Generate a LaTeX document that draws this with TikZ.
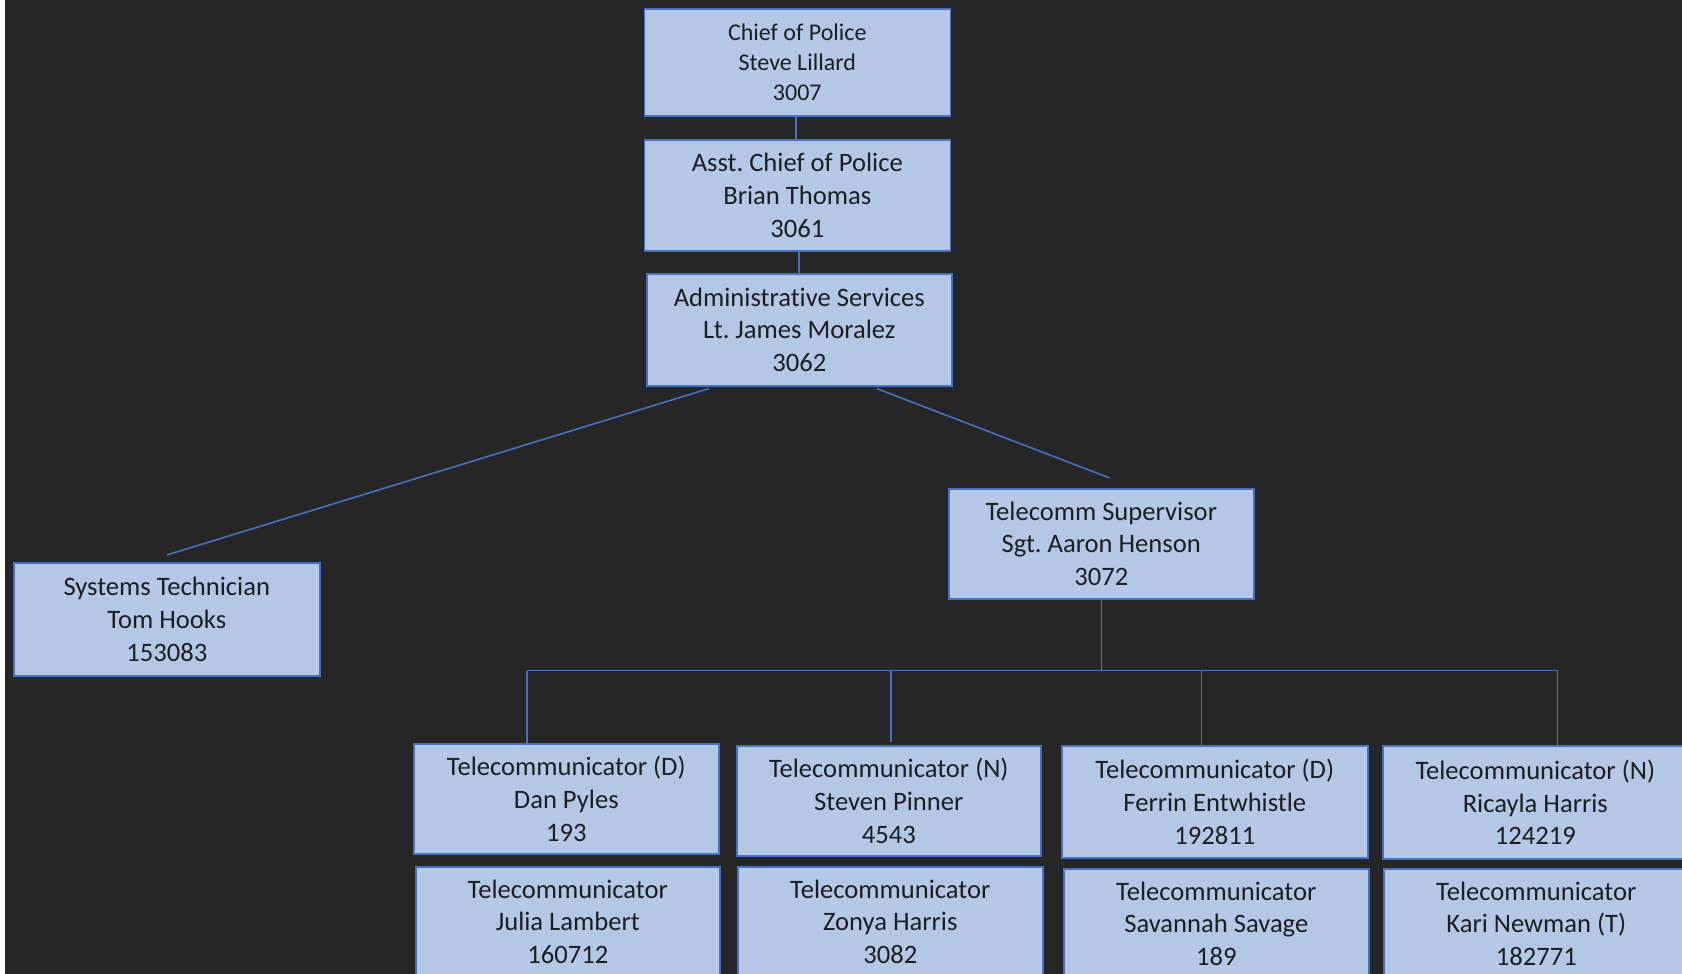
\documentclass[tikz,border=0pt]{standalone}
\usepackage{fontspec}
\setmainfont[Ligatures=NoCommon]{Carlito}
\frenchspacing
\definecolor{bg}{HTML}{262626}
\definecolor{boxfill}{HTML}{B4C7E7}
\definecolor{boxline}{HTML}{4472C4}
\definecolor{txt}{HTML}{1E1E1E}
\tikzset{
  orgbox/.style={draw=boxline, fill=boxfill, line width=1.6pt, anchor=north west,
    align=center, inner sep=0pt, text=txt,
    font=\fontsize{26.6}{32.7}\selectfont},
  link/.style={draw=boxline, line width=1.6pt}
}
\begin{document}
\begin{tikzpicture}[x=1pt,y=-1pt]
\useasboundingbox (0,0) rectangle (1682,974);
\fill[white] (0,0) rectangle (5,974);
\fill[bg] (5,0) rectangle (1682,974);
\begin{scope}
\clip (5,0) rectangle (1682,974);
% boxes
\node[orgbox, minimum width=306pt, minimum height=106.5pt, font=\fontsize{24}{30}\selectfont] (chief) at (643.5,8.5) {Chief of Police\\Steve Lillard\\3007};
\node[orgbox, minimum width=306pt, minimum height=111pt] (asst) at (643.5,139) {Asst. Chief of Police\\Brian Thomas\\3061};
\node[orgbox, minimum width=305pt, minimum height=112pt] (admin) at (646,273) {Administrative Services\\Lt. James Moralez\\3062};
\node[orgbox, minimum width=306pt, minimum height=113pt] (sys) at (13,562) {Systems Technician\\Tom Hooks\\153083};
\node[orgbox, minimum width=305pt, minimum height=110pt] (sup) at (948,488) {Telecomm Supervisor\\Sgt. Aaron Henson\\3072};
\node[orgbox, minimum width=305pt, minimum height=110pt] (dan) at (413,743) {Telecommunicator (D)\\Dan Pyles\\193};
\node[orgbox, minimum width=304pt, minimum height=110pt] (steven) at (736,745) {Telecommunicator (N)\\Steven Pinner\\4543};
\node[orgbox, minimum width=306pt, minimum height=112pt] (ferrin) at (1061,745) {Telecommunicator (D)\\Ferrin Entwhistle\\192811};
\node[orgbox, minimum width=305pt, minimum height=113pt] (ricayla) at (1382,745) {Telecommunicator (N)\\Ricayla Harris\\124219};
\node[orgbox, minimum width=304pt, minimum height=110pt] (julia) at (415,866) {Telecommunicator\\Julia Lambert\\160712};
\node[orgbox, minimum width=305pt, minimum height=110pt] (zonya) at (737,866) {Telecommunicator\\Zonya Harris\\3082};
\node[orgbox, minimum width=305pt, minimum height=110pt] (savannah) at (1063,868) {Telecommunicator\\Savannah Savage\\189};
\node[orgbox, minimum width=305pt, minimum height=110pt] (kari) at (1383,868) {Telecommunicator\\Kari Newman (T)\\182771};
\end{scope}
% connectors
\draw[link] ([xshift=-1.5pt]chief.south) -- ([xshift=-1.5pt]chief.south |- asst.north);
\draw[link] ([xshift=1.5pt]asst.south) -- ([xshift=1.5pt]asst.south |- admin.north);
\draw[link] ([xshift=-90.5pt,yshift=-2pt]admin.south) -- ([yshift=7pt]sys.north);
\draw[link] ([xshift=77.5pt,yshift=-2pt]admin.south) -- ([xshift=8.5pt,yshift=10pt]sup.north);
\coordinate (bl) at (526.7,670.5);
\coordinate (b2) at (891,670.5);
\coordinate (b3) at (1201.4,670.5);
\coordinate (br) at (1557.6,670.5);
\draw[link] (sup.south) -- (sup.south |- bl);
\draw[link] (bl) -- (br);
\draw[link] (bl) -- (bl |- dan.north);
\draw[link] (b2) -- ([yshift=3pt]b2 |- steven.north);
\draw[link] (b3) -- (b3 |- ferrin.north);
\draw[link] (br) -- (br |- ricayla.north);
\end{tikzpicture}
\end{document}
